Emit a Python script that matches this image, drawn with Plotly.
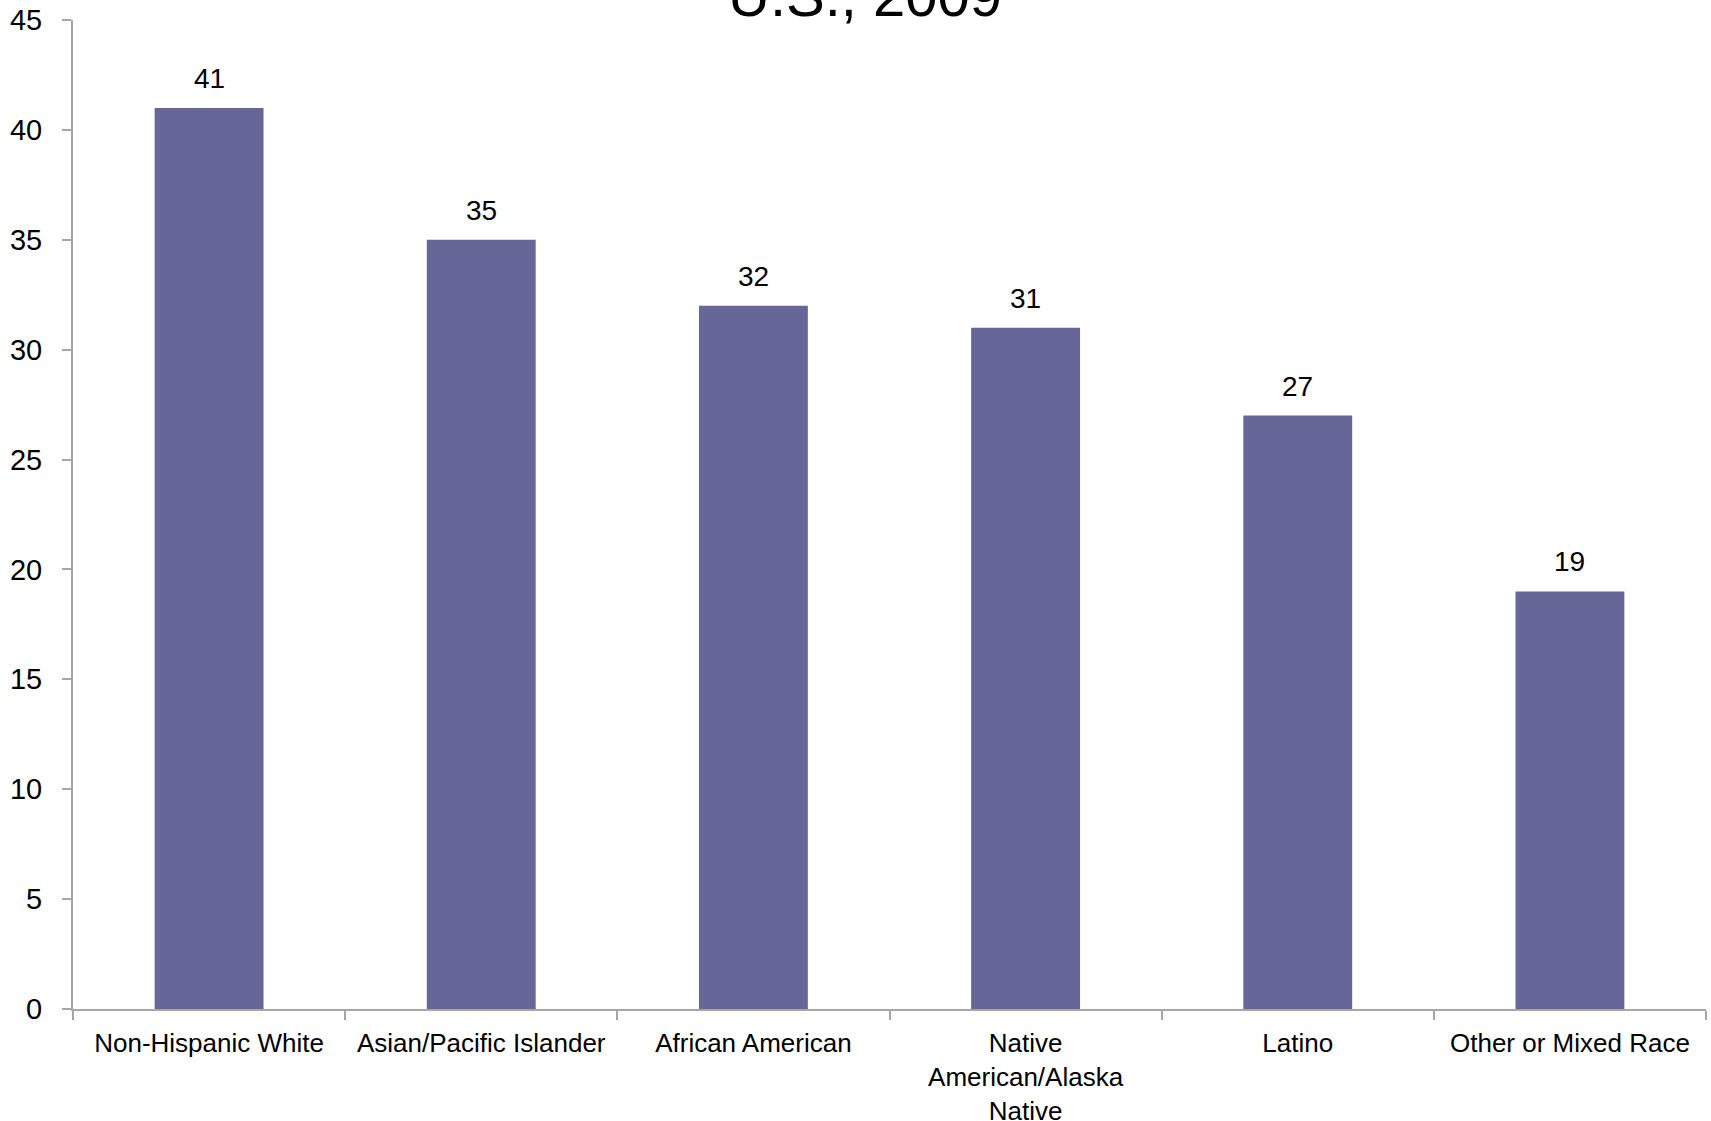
import plotly.graph_objects as go

categories = ["Non-Hispanic White", "Asian/Pacific Islander", "African American",
              "Native<br>American/Alaska<br>Native", "Latino", "Other or Mixed Race"]
values = [41, 35, 32, 31, 27, 19]
y_ticks = [0, 5, 10, 15, 20, 25, 30, 35, 40, 45]
title_text = "U.S., 2009"

bar_color = "#666699"
axis_color = "#a6a6a6"
font_family = "Liberation Sans, Arial, sans-serif"

fig = go.Figure()
fig.add_trace(go.Bar(
    x=categories, y=values,
    marker=dict(color=bar_color, line=dict(width=0)),
    width=0.4,
    hoverinfo="skip",
))

for c, v in zip(categories, values):
    fig.add_annotation(
        x=c, y=v, xref="x", yref="y",
        text=str(v), showarrow=False,
        yanchor="bottom", yshift=12,
        font=dict(family=font_family, size=28, color="black"),
    )

fig.add_annotation(
    x=0.485, y=1, xref="paper", yref="paper",
    text=title_text, showarrow=False,
    xanchor="center", yanchor="bottom", yshift=-10,
    font=dict(family=font_family, size=58, color="black"),
)

fig.update_layout(
    width=1711, height=1121,
    margin=dict(l=73, r=5, t=20, b=112),
    paper_bgcolor="white", plot_bgcolor="white",
    showlegend=False,
    font=dict(family=font_family, color="black"),
)

fig.update_xaxes(
    automargin=False,
    showline=True, linecolor=axis_color, linewidth=2,
    ticks="outside", tickson="boundaries", ticklen=9, tickwidth=2, tickcolor=axis_color,
    tickfont=dict(family=font_family, size=26, color="black"),
    ticklabelstandoff=10, ticklabeloverflow="allow",
    showgrid=False, zeroline=False,
)
fig.update_yaxes(
    automargin=False,
    range=[0, 45], tickvals=y_ticks,
    showline=True, linecolor=axis_color, linewidth=2,
    ticks="outside", ticklen=9, tickwidth=2, tickcolor=axis_color,
    tickfont=dict(family=font_family, size=29, color="black"),
    ticklabelstandoff=14, ticklabeloverflow="allow",
    showgrid=False, zeroline=False,
)

# remove the default page margin so the figure fills the window exactly
fig.write_html("out.html", config={"displayModeBar": False},
               post_script="document.body.style.margin='0';")
